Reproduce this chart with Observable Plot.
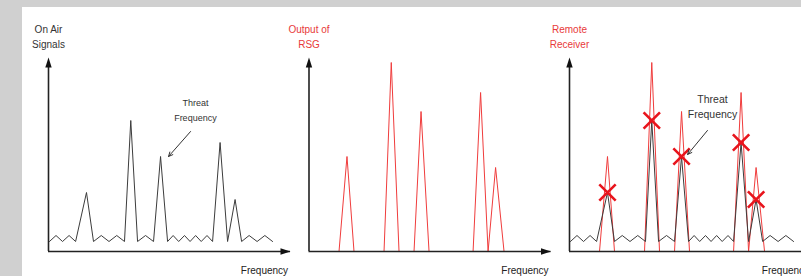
<!DOCTYPE html>
<html><head><meta charset="utf-8">
<script src="https://cdn.jsdelivr.net/npm/d3@7"></script>
<script src="https://cdn.jsdelivr.net/npm/@observablehq/plot@0.6"></script>
<style>
html,body{margin:0;padding:0;overflow:hidden;background:#d0d0d0;width:801px;height:276px}
#chart{position:absolute;left:22px;top:7px;width:779px;height:269px;background:#fff;overflow:hidden}
#chart svg{display:block;background:#fff;overflow:hidden;max-width:none !important;height:269px !important}
</style></head><body><div id="chart"></div>
<script>
// ---- data ----
const panels = ["On Air Signals", "Output of RSG", "Remote Receiver"];
const panelTitles = ["On Air\nSignals", "Output of\nRSG", "Remote\nReceiver"];
const axisLabel = "Frequency";

// On-air spectrum (black trace): relative frequency, level
const airFreq  = [0.4, 3.1, 5.8, 8.5, 11.2, 15.7, 18.6, 21.8, 25.0, 28.2, 31.4, 34.0, 36.8, 40.1, 43.4, 46.3, 49.2, 51.5, 53.8, 56.2, 58.5, 60.8, 63.1, 65.5, 67.8, 70.9, 74.0, 77.1, 79.8, 82.9, 86.2, 89.4, 92.6];
const airLevel = [10, 16, 10, 16, 10, 59, 10, 16, 10, 16, 10, 131, 10, 16, 10, 95, 10, 16, 10, 16, 10, 16, 10, 16, 10, 109, 10, 52, 10, 16, 10, 16, 10];

// RSG output (red trace)
const rsgFreq  = [12.4, 15.7, 18.6, 31.0, 34.0, 37.2, 43.4, 46.3, 49.6, 67.8, 70.9, 74.0, 77.1, 80.6];
const rsgLevel = [0, 95, 0, 0, 189, 0, 0, 140, 0, 0, 159, 0, 84, 0];

// Jammed threat signals (X marks on remote receiver)
const threatFreq  = [15.7, 34.0, 46.3, 70.9, 77.1];
const threatLevel = [59, 131, 95, 109, 52];

// "Threat Frequency" notes: panel index, text anchor, arrow start/end
const notePanel = [0, 2];
const noteText = "Threat\nFrequency";
const noteFreq = [60.7, 59.1];
const noteLevel = [143, 145.5];
const noteArrowFrom = [[58.7, 120], [57.0, 121]];
const noteArrowTo = [[49.6, 95], [48.8, 97]];

const axisTop = 194;   // y-axis arrow tip level
const axisEnd = 100;   // x-axis arrow tip frequency

// ---- tables ----
const airRows = [0, 2].flatMap(p => airFreq.map((f, k) => ({panel: panels[p], f, v: airLevel[k]})));
const rsgRows = [1, 2].flatMap(p => rsgFreq.map((f, k) => ({panel: panels[p], f, v: rsgLevel[k]})));
const threatRows = threatFreq.map((f, k) => ({panel: panels[2], f, v: threatLevel[k]}));
const titleRows = panels.map((p, i) => ({panel: p, text: panelTitles[i], i}));
const noteRows = notePanel.map((p, i) => ({panel: panels[p], f: noteFreq[i], v: noteLevel[i],
  x1: noteArrowFrom[i][0], y1: noteArrowFrom[i][1], x2: noteArrowTo[i][0], y2: noteArrowTo[i][1], i}));

const arrowHead = {draw(ctx) { ctx.moveTo(0, 0); ctx.lineTo(-3.2, 10); ctx.lineTo(3.2, 10); ctx.closePath(); }};

const chart = Plot.plot({
  width: 791, height: 269,
  marginLeft: 26, marginRight: 2, marginTop: 44, marginBottom: 25,
  fx: {domain: panels, paddingInner: 0.071, paddingOuter: 0, round: false, axis: null, label: null},
  x: {domain: [0, 100], axis: null},
  y: {domain: [0, 200], axis: null},
  style: {fontFamily: "'Liberation Sans', Arial, sans-serif", fontSize: "10px", background: "#fff", maxWidth: "none", height: "269px"},
  marks: [
    Plot.line(rsgRows, {fx: "panel", x: "f", y: "v", stroke: "#f03c3c", strokeWidth: 1}),
    Plot.line(airRows, {fx: "panel", x: "f", y: "v", stroke: "#3c3c3c", strokeWidth: 1}),
    Plot.ruleY([0], {stroke: "#222", strokeWidth: 1.6}),
    Plot.ruleX([0], {y1: 0, y2: axisTop - 6, stroke: "#222", strokeWidth: 1.6}),
    Plot.dot([0], {x: 0, y: axisTop, symbol: arrowHead, fill: "#111", stroke: null}),
    Plot.dot([0], {x: axisEnd, y: 0, rotate: 90, symbol: arrowHead, fill: "#111", stroke: null}),
    Plot.dot(threatRows, {fx: "panel", x: "f", y: "v", symbol: "times", r: 7.5, stroke: "#e8141c", strokeWidth: 2.6}),
    Plot.text(titleRows.filter(d => d.i === 0), {fx: "panel", x: 0, y: 215.5, text: "text", lineHeight: 1.5, fontSize: 10, fill: "#333"}),
    Plot.text(titleRows.filter(d => d.i > 0), {fx: "panel", x: 0, y: 215.5, text: "text", lineHeight: 1.5, fontSize: 10, fill: "#e83a3a"}),
    Plot.text([axisLabel], {x: 99, y: -19, textAnchor: "end", fontSize: 10, fill: "#222"}),
    Plot.text(noteRows.filter(d => d.i === 0), {fx: "panel", x: "f", y: "v", text: () => noteText, lineHeight: 1.75, fontSize: 9, fill: "#333"}),
    Plot.text(noteRows.filter(d => d.i === 1), {fx: "panel", x: "f", y: "v", text: () => noteText, lineHeight: 1.45, fontSize: 10.5, fill: "#333"}),
    Plot.arrow(noteRows, {fx: "panel", x1: "x1", y1: "y1", x2: "x2", y2: "y2", stroke: "#333", strokeWidth: 1, headLength: 7, headAngle: 50})
  ]
});
document.getElementById("chart").append(chart);
</script></body></html>
